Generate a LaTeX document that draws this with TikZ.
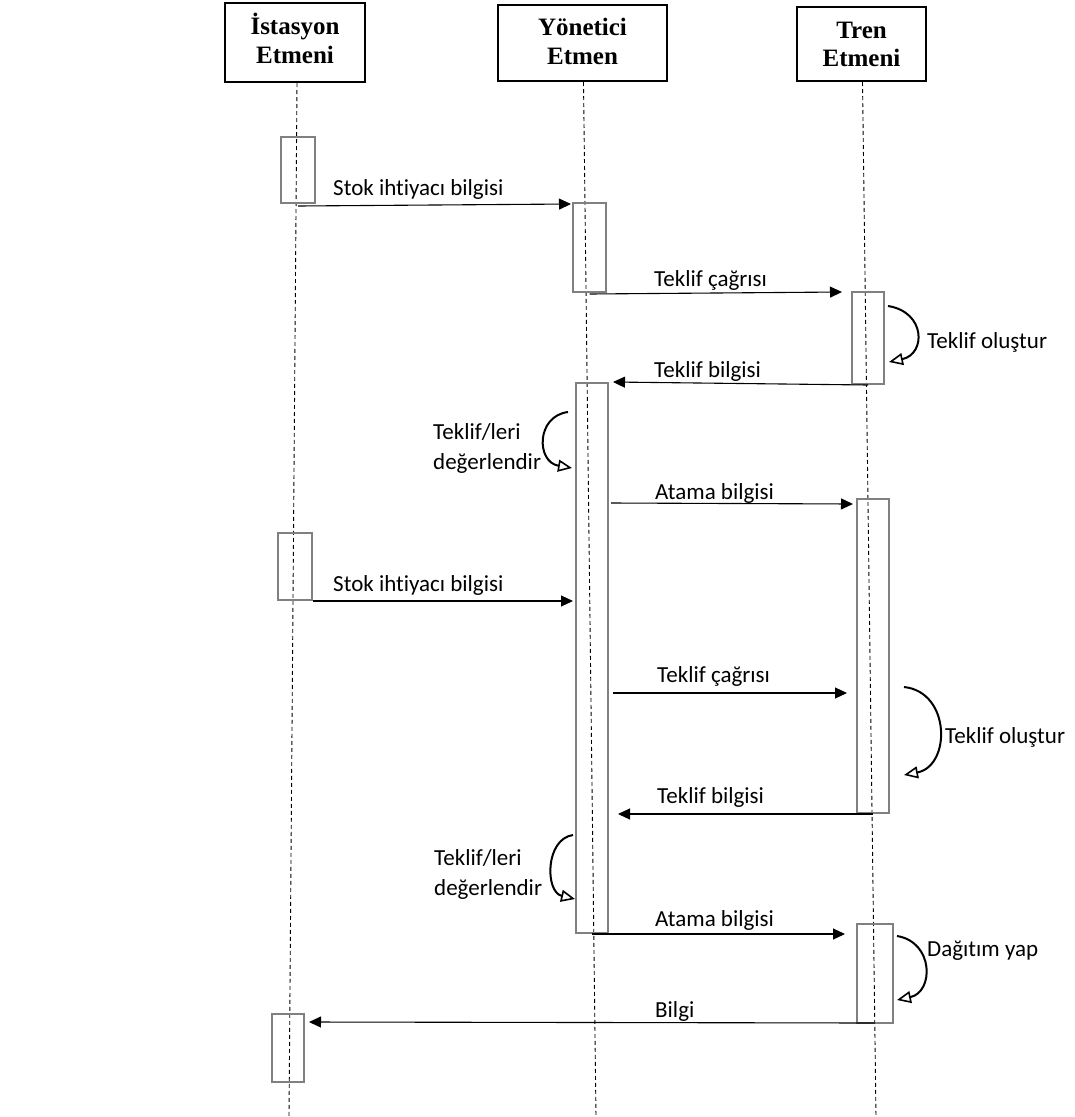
\documentclass[tikz,border=0pt]{standalone}
\usepackage{fontspec}
\setmainfont{Carlito}[Ligatures=CommonOff]
\newfontfamily\headfont{Liberation Serif}
\usetikzlibrary{arrows.meta,fit,calc}
\definecolor{actgray}{RGB}{128,128,128}
\begin{document}
\begin{tikzpicture}[x=1pt,y=-1pt,
  head/.style={draw=black, line width=2pt, rectangle, inner sep=0pt},
  headtxt/.style={font=\headfont\bfseries\fontsize{25}{28.5}\selectfont, align=center, inner sep=0pt, anchor=base},
  life/.style={draw=black, line width=0.9pt, dash pattern=on 4pt off 3pt},
  act/.style={draw=actgray, line width=2pt, rectangle, inner sep=0pt},
  msg/.style={draw=black, line width=1.1pt, -{Triangle[length=12pt,width=11pt]}},
  selfmsg/.style={draw=black, line width=2pt, -{Triangle[open,length=14pt,width=12pt,line width=1.6pt]}},
  lbl/.style={font=\fontsize{23}{30}\selectfont, inner sep=0pt, anchor=base west, align=left}]
\useasboundingbox (0,0) rectangle (1075,1117);
\fill[white] (0,0) rectangle (1075,1117);

% headers
\node[head, minimum width=140pt, minimum height=79pt] (ist) at (295,42.5) {};
\node[head, minimum width=169pt, minimum height=76pt] (yon) at (582.5,43) {};
\node[head, minimum width=129pt, minimum height=74pt] (tren) at (861.5,44) {};
\node[headtxt] (istT) at (295,63.3) {İstasyon\\Etmeni};
\node[headtxt] (yonT) at (582.5,64) {Yönetici\\Etmen};
\node[headtxt] (trenT) at (861.5,66.7) {Tren\\Etmeni};

% lifelines
\coordinate (istB) at (289,1117);
\coordinate (yonB) at (596,1117);
\coordinate (trenB) at (876,1117);
\draw[life] ([xshift=2pt]ist.south) -- (istB);
\draw[life] ([xshift=1pt]yon.south) -- (yonB);
\draw[life] ([xshift=1pt]tren.south) -- (trenB);

% activation boxes
\node[act, fit={(281,137) (315,203)}] (a1) {};
\node[act, fit={(573,203) (606,292)}] (b1) {};
\node[act, fit={(852,292) (884,384)}] (c1) {};
\node[act, fit={(576,383) (608,933)}] (b2) {};
\node[act, fit={(857,499) (889,813)}] (c2) {};
\node[act, fit={(278,533) (312,600)}] (a2) {};
\node[act, fit={(857,924) (893,1023)}] (c3) {};
\node[act, fit={(272,1014) (304,1082)}] (a3) {};

% messages
\draw[msg] ([yshift=-2pt]a1.south) -- ([xshift=-1pt,yshift=-2pt]b1.north west);
\draw[msg] ([yshift=-1pt]b1.south) -- ([xshift=-9pt,yshift=-1pt]c1.north west);
\draw[msg] (c1.south) -- ([xshift=4pt]b2.north east);
\draw[msg] ($(b2.east |- 0,503)+(2,0)$) -- ($(c2.west |- 0,504)+(-3,0)$);
\draw[msg] (a2.south east) -- ($(b2.west |- a2.south)+(-2,0)$);
\draw[msg] ($(b2.east |- 0,693)+(4,0)$) -- ($(c2.west |- 0,693)+(-9,0)$);
\draw[msg] (c2.south) -- ($(b2.east |- c2.south)+(9,0)$);
\draw[msg] (b2.south) -- ($(c3.west |- b2.south)+(-11,0)$);
\draw[msg] ($(c3.south)+(0,-1)$) -- ($(a3.east |- 0,1022)+(4,0)$);

% self messages
\coordinate (s1a) at (888,306); \coordinate (s1b) at (889,362);
\draw[selfmsg] (s1a) .. controls (926,312) and (926,354) .. (s1b);
\coordinate (s2a) at (568,412); \coordinate (s2b) at (572,468);
\draw[selfmsg] (s2a) .. controls (536,416) and (536,462) .. (s2b);
\coordinate (s3a) at (904,687); \coordinate (s3b) at (904,775);
\draw[selfmsg] (s3a) .. controls (951,692) and (951,766) .. (s3b);
\coordinate (s4a) at (573,835); \coordinate (s4b) at (575,899);
\draw[selfmsg] (s4a) .. controls (545,839) and (545,892) .. (s4b);
\coordinate (s5a) at (897,936); \coordinate (s5b) at (897,1000);
\draw[selfmsg] (s5a) .. controls (934,942) and (934,992) .. (s5b);

% labels
\node[lbl] (l1) at (333,195) {Stok ihtiyacı bilgisi};
\node[lbl] (l2) at (654,286.7) {Teklif çağrısı};
\node[lbl] (l3) at (927,348.3) {Teklif oluştur};
\node[lbl] (l4) at (654,377.7) {Teklif bilgisi};
\node[lbl] (l5) at (433,469) {Teklif/leri\\değerlendir};
\node[lbl] (l6) at (655,499.3) {Atama bilgisi};
\node[lbl] (l7) at (333,591.7) {Stok ihtiyacı bilgisi};
\node[lbl] (l8) at (657,682.7) {Teklif çağrısı};
\node[lbl] (l9) at (945,743.3) {Teklif oluştur};
\node[lbl] (l10) at (657,803.3) {Teklif bilgisi};
\node[lbl] (l11) at (434,895) {Teklif/leri\\değerlendir};
\node[lbl] (l12) at (655,926.7) {Atama bilgisi};
\node[lbl] (l13) at (927,956) {Dağıtım yap};
\node[lbl] (l14) at (655,1017.3) {Bilgi};
\end{tikzpicture}
\end{document}
